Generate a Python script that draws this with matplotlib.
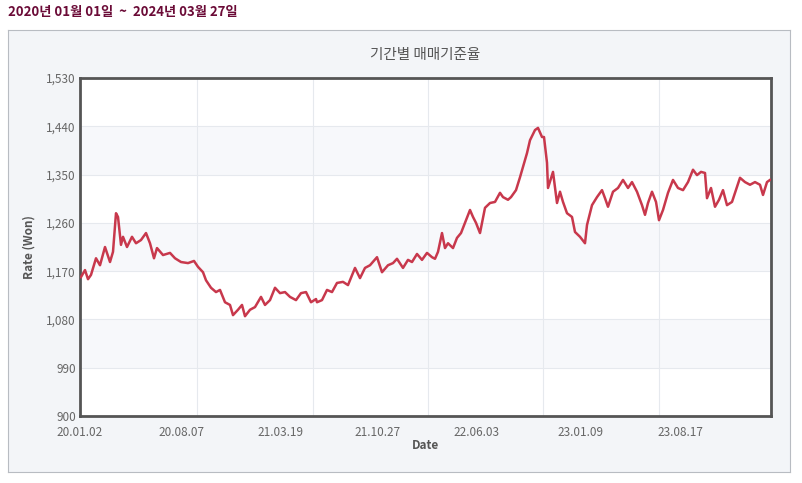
import numpy as np
import matplotlib.pyplot as plt

plt.rcParams['font.family'] = ['Noto Sans CJK KR', 'DejaVu Sans']

# x = position along the period (0 = 20.01.02, 691 = 24.03.27), rate in won
pos = [1, 5, 8, 11, 16, 20, 25, 30, 33, 36, 38, 41, 43, 47, 52, 56, 61, 66, 70, 74, 77, 83, 90, 95,
       101, 108, 114, 118, 123, 126, 131, 136, 140, 145, 150, 153, 158, 162, 165, 170, 175, 181,
       185, 190, 195, 200, 205, 210, 216, 221, 226, 231, 236,
       237, 242, 247, 252, 257, 263, 268, 275, 280, 285, 290, 297, 302, 308, 313, 317, 323, 328,
       332, 337, 342, 347, 352, 355, 358, 362, 365, 368, 373, 377, 381, 386, 390, 393, 396, 400,
       405, 410, 415, 420, 423, 428, 431,
       436, 440, 447, 450, 455, 458, 462, 464, 467, 468, 473, 477, 480, 483, 487, 492, 495, 500,
       505, 507, 512, 517, 522, 525, 528, 533, 538, 543, 548, 552, 557, 562, 565, 568, 572, 576,
       579, 583, 588, 593, 598, 603, 608, 613, 617, 621, 625, 627, 631, 635, 639, 643, 647, 652,
       655, 660, 665, 670, 675, 680, 683, 687, 690]
rate = [1159, 1172, 1155, 1163, 1194, 1181, 1215, 1187, 1206, 1278, 1271, 1219, 1234, 1215, 1234,
        1222, 1228, 1241, 1222, 1194, 1213, 1200, 1204, 1194, 1187, 1185, 1189, 1178, 1168, 1153,
        1139, 1131, 1135, 1112, 1107, 1088, 1098, 1107, 1086, 1098, 1103, 1122, 1107, 1116, 1139,
        1129, 1131, 1122, 1116, 1129, 1131, 1112, 1118,
        1112, 1116, 1135, 1131, 1148, 1150, 1144, 1176, 1157, 1176, 1181, 1196, 1168, 1181, 1185,
        1193, 1176, 1191, 1187, 1202, 1191, 1204, 1196, 1193, 1206, 1241, 1213, 1222, 1213, 1232,
        1241, 1265, 1284, 1271, 1260, 1241, 1288, 1297, 1299, 1316, 1308, 1303, 1308,
        1321, 1345, 1390, 1414, 1433, 1437, 1420, 1420, 1372, 1325, 1355, 1297, 1318, 1299, 1278,
        1271, 1243, 1234, 1222, 1256, 1293, 1308, 1321, 1306, 1290, 1318, 1325, 1340, 1325, 1336,
        1318, 1293, 1275, 1297, 1318, 1299, 1265, 1284, 1316, 1340, 1325, 1321, 1336, 1359, 1349,
        1355, 1353, 1306, 1325, 1290, 1303, 1321, 1293, 1299, 1316, 1344, 1336, 1331, 1336, 1331,
        1312, 1336, 1340]

tick_pos = [0, 101, 200, 298, 396, 500, 600]
tick_labels = ['20.01.02', '20.08.07', '21.03.19', '21.10.27', '22.06.03', '23.01.09', '23.08.17']
grid_pos = [117, 233, 348, 463, 579]
y_ticks = np.arange(900, 1531, 90)

fig = plt.figure(figsize=(8.02, 4.83), dpi=100)

# grey panel behind the chart
bg = fig.add_axes([8 / 802, 1 - 472 / 483, 782 / 802, 442 / 483], zorder=-1)
bg.set_facecolor('#f3f5f8')
bg.set_xticks([])
bg.set_yticks([])
for s in bg.spines.values():
    s.set_color('#b8bcc2')

fig.text(8 / 802, 1 - 12 / 483, '2020년 01월 01일  ~  2024년 03월 27일', color='#6b0b37',
         fontsize=9.5, fontweight='bold', va='center', ha='left')

ax = fig.add_axes([80 / 802, 1 - 416 / 483, 691 / 802, 338 / 483])
ax.set_facecolor('white')
for i in range(len(y_ticks) - 1):
    if i % 2 == 1:
        ax.axhspan(y_ticks[i], y_ticks[i + 1], color='#f7f8fb', lw=0, zorder=0)
for y in y_ticks:
    ax.axhline(y, color='#e6e9ee', lw=0.8, zorder=1)
for g in grid_pos:
    ax.axvline(g, color='#e6e9ee', lw=0.8, zorder=1)

ax.plot(pos, rate, color='#c8384c', lw=1.8, zorder=3)
ax.set_xlim(0, 691)
ax.set_ylim(900, 1530)
ax.set_yticks(y_ticks)
ax.set_yticklabels([f'{v:,}' for v in y_ticks])
ax.set_xticks(tick_pos)
ax.set_xticklabels(tick_labels)
ax.tick_params(length=0, labelsize=8.5, colors='#666666', pad=3)
ax.tick_params(axis='x', pad=7)
for s in ax.spines.values():
    s.set_color('#555555')
    s.set_linewidth(2)

ax.set_title('기간별 매매기준율', fontsize=10.5, color='#555555', pad=14)
ax.set_xlabel('Date', fontsize=8.5, fontweight='bold', color='#555555', labelpad=0)
ax.set_ylabel('Rate (Won)', fontsize=8.5, fontweight='bold', color='#555555', labelpad=8)

fig.savefig('out.png', dpi=100)
